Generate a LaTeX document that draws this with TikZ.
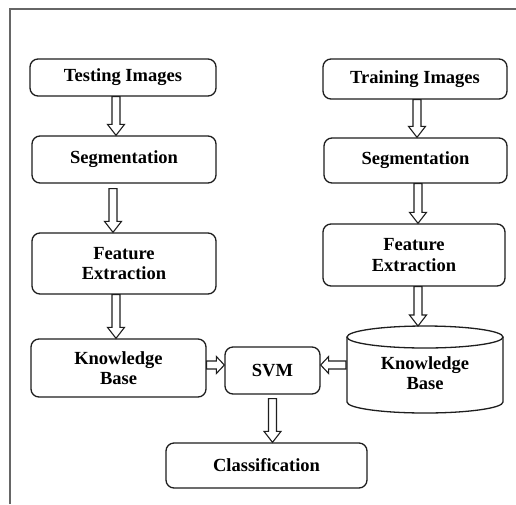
\documentclass[tikz,border=0pt]{standalone}
\usepackage{fontspec}
\setmainfont{Liberation Serif}
\usetikzlibrary{calc}
\definecolor{linecol}{RGB}{30,30,30}
\newcommand\darr[2]{\path[arr] let \p1=(#1), \p2=(#2) in (\x1-4pt,\y1) -- (\x1-4pt,\y2+11pt) -- (\x1-8.5pt,\y2+11pt) -- (\x1,\y2) -- (\x1+8.5pt,\y2+11pt) -- (\x1+4pt,\y2+11pt) -- (\x1+4pt,\y1) -- cycle;}
\newcommand\rarr[2]{\path[arr] let \p1=(#1), \p2=(#2) in (\x1,\y1-4pt) -- (\x2-8pt,\y1-4pt) -- (\x2-8pt,\y1-8.5pt) -- (\x2,\y1) -- (\x2-8pt,\y1+8.5pt) -- (\x2-8pt,\y1+4pt) -- (\x1,\y1+4pt) -- cycle;}
\newcommand\larr[2]{\path[arr] let \p1=(#1), \p2=(#2) in (\x1,\y1-4pt) -- (\x2+8pt,\y1-4pt) -- (\x2+8pt,\y1-8.5pt) -- (\x2,\y1) -- (\x2+8pt,\y1+8.5pt) -- (\x2+8pt,\y1+4pt) -- (\x1,\y1+4pt) -- cycle;}
\begin{document}
\begin{tikzpicture}[x=1pt,y=-1pt,
  box/.style={draw=linecol, line width=1.3pt, rounded corners=8pt, align=center, inner sep=0pt, font=\bfseries\fontsize{18.5}{20.5}\selectfont},
  plain/.style={align=center, inner sep=0pt, font=\bfseries\fontsize{18.5}{20.5}\selectfont},
  arr/.style={draw=linecol, line width=1.1pt, fill=white, line join=miter}]
\useasboundingbox (0,0) rectangle (516,504);
\fill[white] (0,0) rectangle (516,504);
% frame
\draw[line width=1.2pt, draw=gray!80!black] (10,504) -- (10,9) -- (516,9);
% left column
\node[box, minimum width=186pt, minimum height=37pt] (ti) at (123,77.5) {Testing Images};
\node[box, minimum width=184pt, minimum height=47pt] (sl) at (124,159.5) {Segmentation};
\node[box, minimum width=184pt, minimum height=61pt] (fl) at (124,263.5) {Feature\\Extraction};
\node[box, minimum width=175pt, minimum height=58pt] (kl) at (118.5,368) {Knowledge\\Base};
% middle
\node[box, minimum width=95pt, minimum height=47pt] (svm) at (272.5,370.5) {SVM};
\node[box, minimum width=201pt, minimum height=45pt] (cls) at (266.5,465.5) {Classification};
% right column
\node[box, minimum width=184pt, minimum height=40pt] (tr) at (415,79) {Training Images};
\node[box, minimum width=183pt, minimum height=45pt] (sr) at (415.5,160.5) {Segmentation};
\node[box, minimum width=182pt, minimum height=62pt] (fr) at (414,255) {Feature\\Extraction};
% cylinder knowledge base
\draw[draw=linecol, line width=1.3pt, fill=white] (347,337) -- (347,402) arc[start angle=180, end angle=360, x radius=78pt, y radius=11pt] -- (503,337);
\draw[draw=linecol, line width=1.3pt] (425,337) ellipse [x radius=78pt, y radius=11pt];
\node[plain, minimum width=156pt, minimum height=60pt] (kr) at (425,373) {Knowledge\\Base};
\coordinate (krtop) at (418,326);
\coordinate (krleft) at (346,365);
\coordinate (yh) at (0,365);
% arrows
\darr{$(ti.south)+(-7,0)$}{sl.north}
\darr{$(sl.south)+(-11,5)$}{fl.north}
\darr{$(fl.south)+(-8,0)$}{kl.north}
\darr{$(tr.south)+(2,0)$}{sr.north}
\darr{$(sr.south)+(2.5,0)$}{fr.north}
\darr{$(fr.south)+(4,0)$}{krtop}
\darr{$(svm.south)+(0,4)$}{cls.north}
\rarr{kl.east |- yh}{svm.west |- yh}
\larr{krleft}{svm.east |- yh}
\end{tikzpicture}
\end{document}
